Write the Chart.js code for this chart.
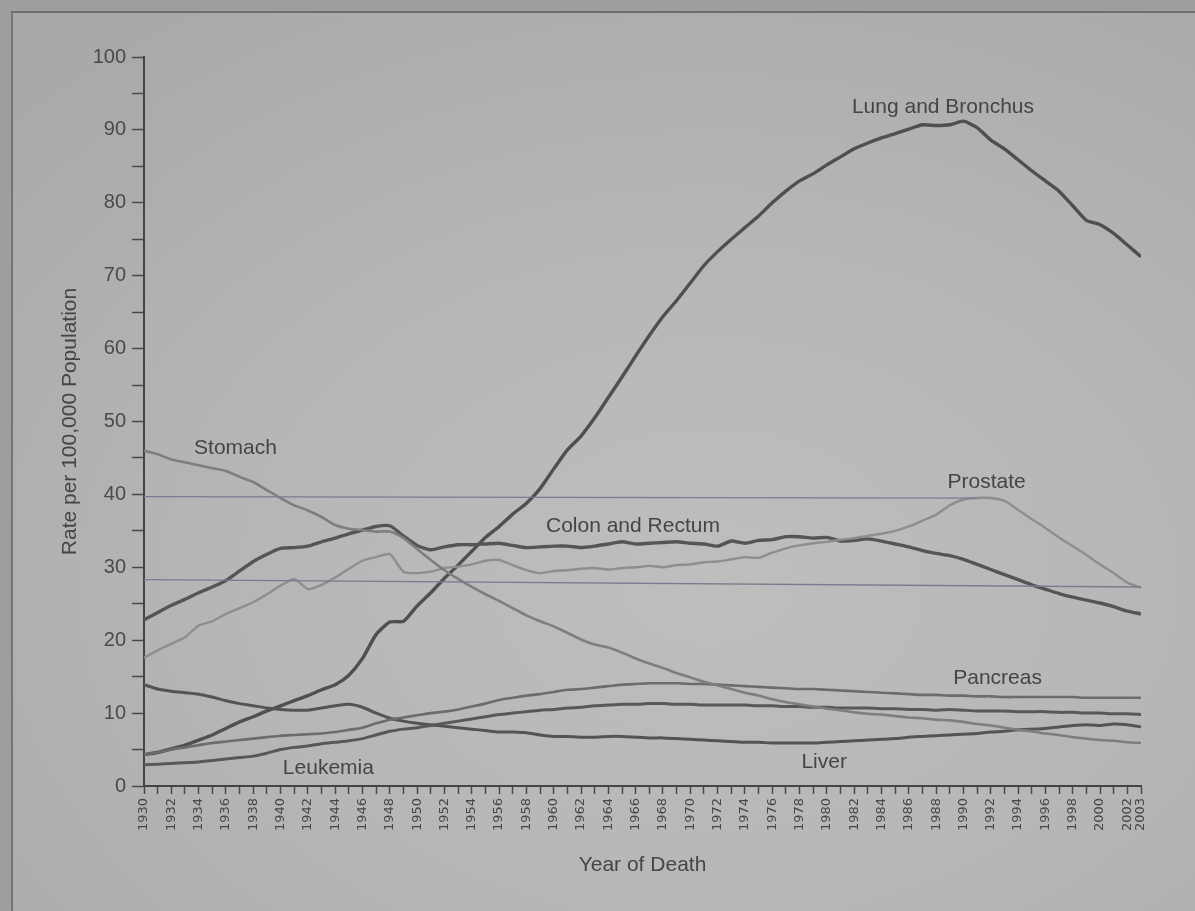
<!DOCTYPE html>
<html>
<head>
<meta charset="utf-8">
<title>Cancer Death Rates by Site, Males, 1930-2003</title>
<script src="https://cdn.jsdelivr.net/npm/chart.js@4"></script>
<style>
  html, body { margin: 0; padding: 0; }
  body {
    width: 1195px; height: 911px; overflow: hidden; position: relative;
    background: #9e9e9e;
  }
  #sheet {
    position: absolute; left: 11px; top: 11px; width: 1200px; height: 920px;
    border-top: 2px solid #6e6e6e; border-left: 2px solid #747474;
    background: radial-gradient(ellipse 80% 75% at 58% 62%, #bebebe 0%, #b6b6b6 50%, #a9a9a9 100%);
  }
  #chart { position: absolute; left: 0; top: 0; }
</style>
</head>
<body>
<div id="sheet"></div>
<canvas id="chart" width="1195" height="911"></canvas>
<script>
// Age-adjusted death rates per 100,000 males, 1930-2003
const years = [];
for (let y = 1930; y <= 2003; y++) years.push(y);

const lungBronchus = [4.3, 4.6, 5.1, 5.6, 6.3, 7.0, 7.9, 8.8, 9.5, 10.3, 11.0, 11.7, 12.4, 13.2, 13.9, 15.2, 17.5, 20.8, 22.5, 22.6,
  24.7, 26.5, 28.5, 30.3, 32.2, 34.1, 35.6, 37.3, 38.8, 40.8, 43.5, 46.1, 48.0, 50.5, 53.3, 56.1, 59.0, 61.8, 64.4, 66.6,
  69.0, 71.4, 73.3, 75.0, 76.6, 78.2, 80.0, 81.6, 83.0, 84.0, 85.2, 86.3, 87.4, 88.2, 88.9, 89.5, 90.1, 90.7, 90.6, 90.7,
  91.2, 90.3, 88.6, 87.4, 85.9, 84.4, 83.0, 81.6, 79.6, 77.6, 77.0, 75.8, 74.2, 72.6];

const stomach = [46.0, 45.5, 44.8, 44.4, 44.0, 43.6, 43.2, 42.4, 41.7, 40.6, 39.5, 38.5, 37.8, 36.9, 35.8, 35.3, 35.1, 34.9, 34.9, 34.0,
  32.5, 31.0, 29.6, 28.4, 27.3, 26.3, 25.4, 24.4, 23.4, 22.6, 21.9, 21.0, 20.1, 19.4, 19.0, 18.3, 17.5, 16.8, 16.2, 15.5,
  14.9, 14.3, 13.8, 13.3, 12.8, 12.4, 11.9, 11.5, 11.2, 10.9, 10.6, 10.4, 10.1, 9.9, 9.8, 9.6, 9.4, 9.3, 9.1, 9.0,
  8.8, 8.5, 8.3, 8.0, 7.7, 7.5, 7.2, 7.0, 6.7, 6.5, 6.3, 6.2, 6.0, 5.9];

const prostate = [17.6, 18.6, 19.5, 20.4, 22.0, 22.6, 23.6, 24.4, 25.2, 26.3, 27.5, 28.4, 27.0, 27.6, 28.6, 29.8, 30.9, 31.4, 31.8, 29.4,
  29.2, 29.4, 29.9, 30.1, 30.4, 30.9, 31.0, 30.3, 29.6, 29.2, 29.5, 29.6, 29.8, 29.9, 29.7, 29.9, 30.0, 30.2, 30.0, 30.3,
  30.4, 30.7, 30.8, 31.1, 31.4, 31.3, 32.0, 32.6, 33.0, 33.3, 33.5, 33.8, 34.0, 34.3, 34.6, 35.0, 35.6, 36.4, 37.2, 38.5,
  39.3, 39.5, 39.5, 39.1, 37.9, 36.6, 35.4, 34.1, 32.9, 31.7, 30.4, 29.2, 27.9, 27.2];

const colonRectum = [22.8, 23.8, 24.8, 25.6, 26.5, 27.3, 28.2, 29.5, 30.8, 31.8, 32.6, 32.7, 32.9, 33.5, 34.0, 34.6, 35.1, 35.6, 35.7, 34.3,
  33.0, 32.4, 32.8, 33.1, 33.1, 33.2, 33.3, 33.0, 32.7, 32.8, 32.9, 32.9, 32.7, 32.9, 33.2, 33.5, 33.2, 33.3, 33.4, 33.5,
  33.3, 33.2, 32.9, 33.6, 33.3, 33.7, 33.8, 34.2, 34.2, 34.0, 34.1, 33.6, 33.7, 33.9, 33.6, 33.2, 32.8, 32.3, 31.9, 31.6,
  31.1, 30.4, 29.7, 29.0, 28.3, 27.6, 27.0, 26.4, 25.9, 25.5, 25.1, 24.6, 24.0, 23.6];

const pancreas = [4.3, 4.6, 5.0, 5.3, 5.6, 5.9, 6.1, 6.3, 6.5, 6.7, 6.9, 7.0, 7.1, 7.2, 7.4, 7.7, 8.0, 8.6, 9.1, 9.4,
  9.7, 10.0, 10.2, 10.5, 10.9, 11.3, 11.8, 12.1, 12.4, 12.6, 12.9, 13.2, 13.3, 13.5, 13.7, 13.9, 14.0, 14.1, 14.1, 14.1,
  14.0, 14.0, 13.9, 13.8, 13.7, 13.6, 13.5, 13.4, 13.3, 13.3, 13.2, 13.1, 13.0, 12.9, 12.8, 12.7, 12.6, 12.5, 12.5, 12.4,
  12.4, 12.3, 12.3, 12.2, 12.2, 12.2, 12.2, 12.2, 12.2, 12.1, 12.1, 12.1, 12.1, 12.1];

const leukemia = [2.9, 3.0, 3.1, 3.2, 3.3, 3.5, 3.7, 3.9, 4.1, 4.5, 5.0, 5.3, 5.5, 5.8, 6.0, 6.2, 6.5, 7.0, 7.5, 7.8,
  8.0, 8.3, 8.6, 8.9, 9.2, 9.5, 9.8, 10.0, 10.2, 10.4, 10.5, 10.7, 10.8, 11.0, 11.1, 11.2, 11.2, 11.3, 11.3, 11.2,
  11.2, 11.1, 11.1, 11.1, 11.1, 11.0, 11.0, 10.9, 10.9, 10.8, 10.8, 10.7, 10.7, 10.7, 10.6, 10.6, 10.5, 10.5, 10.4, 10.5,
  10.4, 10.3, 10.3, 10.3, 10.2, 10.2, 10.2, 10.1, 10.1, 10.0, 10.0, 9.9, 9.9, 9.8];

const liver = [13.9, 13.3, 13.0, 12.8, 12.6, 12.2, 11.7, 11.3, 11.0, 10.7, 10.5, 10.4, 10.4, 10.7, 11.0, 11.2, 10.8, 10.0, 9.3, 8.9,
  8.6, 8.4, 8.2, 8.0, 7.8, 7.6, 7.4, 7.4, 7.3, 7.0, 6.8, 6.8, 6.7, 6.7, 6.8, 6.8, 6.7, 6.6, 6.6, 6.5,
  6.4, 6.3, 6.2, 6.1, 6.0, 6.0, 5.9, 5.9, 5.9, 5.9, 6.0, 6.1, 6.2, 6.3, 6.4, 6.5, 6.7, 6.8, 6.9, 7.0,
  7.1, 7.2, 7.4, 7.5, 7.7, 7.8, 7.9, 8.1, 8.3, 8.4, 8.3, 8.5, 8.4, 8.1];

// Ruled reference lines across the prostate band
const bandTopYears = [1930, 1991];
const bandTopValues = [39.7, 39.5];
const bandBottomYears = [1930, 2003];
const bandBottomValues = [28.3, 27.3];

// Axis tick values
const yTicks = [0, 5, 10, 15, 20, 25, 30, 35, 40, 45, 50, 55, 60, 65, 70, 75, 80, 85, 90, 95, 100];
const xLabelYears = years.filter(y => y % 2 === 0).concat([2003]);

// In-plot series names, anchored in data units (year, rate)
const seriesLabels = [
  { text: 'Lung and Bronchus', year: 1988.5, rate: 93.1 },
  { text: 'Stomach', year: 1936.7, rate: 46.4 },
  { text: 'Prostate', year: 1991.7, rate: 41.7 },
  { text: 'Colon and Rectum', year: 1965.8, rate: 35.7 },
  { text: 'Pancreas', year: 1992.5, rate: 14.8 },
  { text: 'Leukemia', year: 1943.5, rate: 2.5 },
  { text: 'Liver', year: 1979.8, rate: 3.3 }
];

const pairs = (xs, ys) => xs.map((x, i) => ({ x: x, y: ys[i] }));

function series(label, values, color, width) {
  return {
    label: label,
    data: pairs(years, values),
    borderColor: color,
    borderWidth: width,
    pointRadius: 0,
    tension: 0.2,
    fill: false
  };
}

const seriesLabelPlugin = {
  id: 'seriesLabels',
  afterDatasetsDraw(chart) {
    const { ctx, scales: { x, y } } = chart;
    ctx.save();
    ctx.font = '21px "Liberation Sans", Arial, sans-serif';
    ctx.fillStyle = '#454545';
    ctx.textAlign = 'center';
    ctx.textBaseline = 'middle';
    seriesLabels.forEach(l => {
      ctx.fillText(l.text, x.getPixelForValue(l.year), y.getPixelForValue(l.rate));
    });
    ctx.restore();
  }
};

new Chart(document.getElementById('chart'), {
  type: 'line',
  data: {
    datasets: [
      { label: 'band top', data: pairs(bandTopYears, bandTopValues), borderColor: '#7b7b8e', borderWidth: 1.3, pointRadius: 0, tension: 0 },
      { label: 'band bottom', data: pairs(bandBottomYears, bandBottomValues), borderColor: '#7b7b8e', borderWidth: 1.3, pointRadius: 0, tension: 0 },
      series('Stomach', stomach, '#7e7e7e', 2.6),
      series('Prostate', prostate, '#8e8e8e', 2.4),
      series('Pancreas', pancreas, '#6c6c6c', 2.6),
      series('Leukemia', leukemia, '#585858', 3),
      series('Liver', liver, '#545454', 3),
      series('Colon and Rectum', colonRectum, '#555555', 3.4),
      series('Lung and Bronchus', lungBronchus, '#4f4f4f', 3.4)
    ]
  },
  options: {
    responsive: false,
    animation: false,
    devicePixelRatio: 1,
    layout: { padding: { left: 0, top: 57, right: 54, bottom: 0 } },
    plugins: { legend: { display: false }, tooltip: { enabled: false } },
    scales: {
      x: {
        type: 'linear',
        min: 1930,
        max: 2003,
        afterBuildTicks: s => { s.ticks = years.map(v => ({ value: v })); },
        afterFit: s => { s.height = 125; },
        border: { display: true, color: '#444444', width: 2 },
        grid: { drawOnChartArea: false, drawTicks: true, tickLength: 8, color: '#4a4a4a', tickWidth: 1.5 },
        ticks: {
          autoSkip: false,
          maxRotation: 90,
          minRotation: 90,
          padding: 4,
          color: '#474747',
          font: { family: '"DejaVu Sans", sans-serif', size: 13 },
          callback: v => (xLabelYears.includes(v) ? String(v) : '')
        },
        title: {
          display: true,
          text: 'Year of Death',
          color: '#454545',
          font: { family: '"Liberation Sans", Arial, sans-serif', size: 21 },
          padding: { top: 0, bottom: 33 }
        }
      },
      y: {
        min: 0,
        max: 100,
        afterBuildTicks: s => { s.ticks = yTicks.map(v => ({ value: v })); },
        afterFit: s => { s.width = 144; },
        border: { display: true, color: '#444444', width: 2 },
        grid: { drawOnChartArea: false, drawTicks: true, tickLength: 12, color: '#4a4a4a', tickWidth: 1.5 },
        ticks: {
          padding: 6,
          color: '#4a4a4a',
          font: { family: '"Liberation Sans", Arial, sans-serif', size: 20 },
          callback: v => (v % 10 === 0 ? String(v) : '')
        },
        title: {
          display: true,
          text: 'Rate per 100,000 Population',
          color: '#454545',
          font: { family: '"Liberation Sans", Arial, sans-serif', size: 21 },
          padding: { top: 58, bottom: 0 }
        }
      }
    }
  },
  plugins: [seriesLabelPlugin]
});
</script>
</body>
</html>
